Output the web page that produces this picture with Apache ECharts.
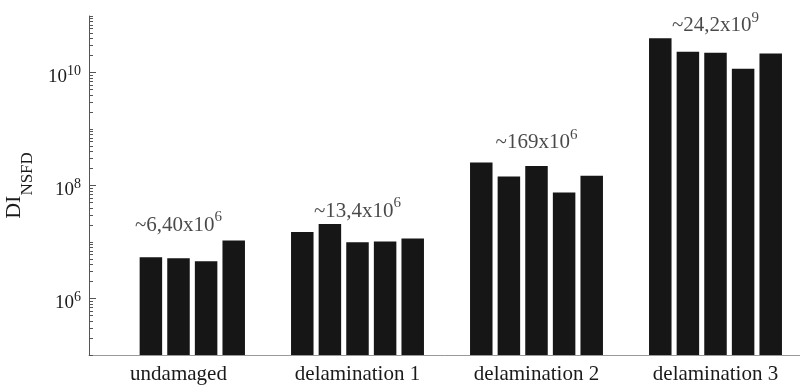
<!DOCTYPE html>
<html><head><meta charset="utf-8">
<script src="https://cdn.jsdelivr.net/npm/echarts@6/dist/echarts.min.js"></script>
<style>html,body{margin:0;padding:0;background:#fff}#c{width:800px;height:391px}</style>
</head><body><div id="c"></div>
<script>
// ---- data ----
const categories = ['undamaged', 'delamination 1', 'delamination 2', 'delamination 3'];
// five measurement slots per group (the first undamaged slot is empty)
const slot1 = [null,   1.51e7, 2.56e8, 4.04e10];
const slot2 = [5.37e6, 2.09e7, 1.45e8, 2.34e10];
const slot3 = [5.15e6, 9.89e6, 2.21e8, 2.24e10];
const slot4 = [4.56e6, 1.02e7, 7.55e7, 1.17e10];
const slot5 = [1.06e7, 1.15e7, 1.49e8, 2.16e10];
const meanMantissa = ['~6,40', '~13,4', '~169', '~24,2'];
const meanExponent = [6, 6, 6, 9];
const yMajorExponents = [6, 8, 10];
const yMinExp = 5, yMaxExp = 11;

// ---- styles ----
const FONT = "'Liberation Serif', 'Times New Roman', serif";
const annotationOffsets = [[0, 0], [0, 3], [0, -4], [0, 3]];

const slots = [slot1, slot2, slot3, slot4, slot5];
const groupMax = categories.map((c, i) => Math.max(...slots.map(s => s[i] == null ? 0 : s[i])));

const minorTicks = [];
for (let n = yMinExp; n <= yMaxExp; n++) {
  for (let k = 1; k <= 9; k++) {
    const v = Math.log10(k) + n;
    if (v > yMaxExp + 1e-9) continue;
    if (k === 1 && yMajorExponents.includes(n)) continue;
    minorTicks.push(v);
  }
}

const chart = echarts.init(document.getElementById('c'), null, {renderer: 'canvas'});
const barSeries = slots.map(s => ({
  type: 'bar', data: s, xAxisIndex: 0, yAxisIndex: 0,
  barWidth: 22.5, barGap: '22.7%',
  itemStyle: {color: '#161616'}, clip: true, silent: true
}));

const option = {
  animation: false,
  backgroundColor: '#fff',
  grid: {left: 89, top: 16, width: 716, bottom: 36, containLabel: false, outerBoundsMode: 'none'},
  xAxis: [{
    type: 'category', data: categories,
    axisLine: {lineStyle: {color: '#999', width: 1}},
    axisTick: {show: false},
    axisLabel: {fontFamily: FONT, fontSize: 21, color: '#1a1a1a', margin: 9},
    splitLine: {show: false}
  }],
  yAxis: [{
    type: 'log', logBase: 10, min: Math.pow(10, yMinExp), max: Math.pow(10, yMaxExp), position: 'left',
    axisLine: {show: true, lineStyle: {color: '#555', width: 1}},
    axisTick: {show: false}, axisLabel: {show: false}, splitLine: {show: false}, minorTick: {show: false},
    name: '{d|DI}{n|NSFD}', nameLocation: 'middle', nameRotate: 90, nameGap: 53,
    nameTextStyle: {
      fontFamily: FONT, color: '#1a1a1a',
      rich: {
        d: {fontFamily: FONT, fontSize: 22, lineHeight: 22, verticalAlign: 'top', color: '#1a1a1a'},
        n: {fontFamily: FONT, fontSize: 17, lineHeight: 32.5, verticalAlign: 'bottom', color: '#1a1a1a'}
      }
    }
  }, {
    type: 'value', min: yMinExp, max: yMaxExp, position: 'left',
    axisLine: {show: false}, splitLine: {show: false},
    axisTick: {show: true, inside: true, length: 7, customValues: yMajorExponents, lineStyle: {color: '#555'}},
    axisLabel: {
      show: true, customValues: yMajorExponents, margin: 8, padding: [6, 0, 0, 0],
      formatter: v => '{b|10}{s|' + v + '}',
      rich: {
        b: {fontFamily: FONT, fontSize: 19, lineHeight: 19, verticalAlign: 'bottom', color: '#1a1a1a'},
        s: {fontFamily: FONT, fontSize: 14, lineHeight: 23, verticalAlign: 'top', color: '#1a1a1a'}
      }
    }
  }, {
    type: 'value', min: yMinExp, max: yMaxExp, position: 'left',
    axisLine: {show: false}, splitLine: {show: false}, axisLabel: {show: false},
    axisTick: {show: true, inside: true, length: 4, customValues: minorTicks, lineStyle: {color: '#555'}}
  }],
  series: barSeries.concat([{
    type: 'scatter', xAxisIndex: 0, yAxisIndex: 0, symbolSize: 0, silent: true,
    data: groupMax.map((v, i) => ({value: v, label: {offset: annotationOffsets[i]}})),
    label: {
      show: true, position: 'top', distance: 5,
      formatter: p => '{b|' + meanMantissa[p.dataIndex] + 'x10}{s|' + meanExponent[p.dataIndex] + '}',
      rich: {
        b: {fontFamily: FONT, fontSize: 21, lineHeight: 20, verticalAlign: 'bottom', color: '#1a1a1a'},
        s: {fontFamily: FONT, fontSize: 15, lineHeight: 26, verticalAlign: 'top', color: '#1a1a1a'}
      }
    }
  }])
};
chart.setOption(option);
</script></body></html>
